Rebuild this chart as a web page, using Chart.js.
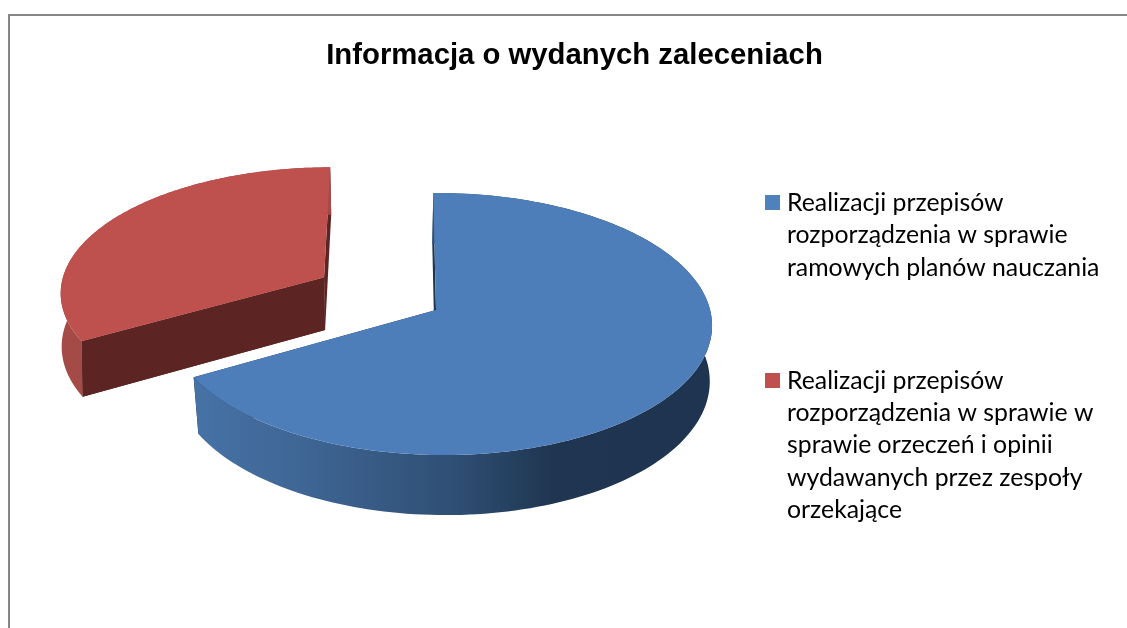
<!DOCTYPE html>
<html lang="pl">
<head>
<meta charset="utf-8">
<style>html,body{margin:0;padding:0;background:#fff}canvas{display:block}</style>
<script src="https://cdn.jsdelivr.net/npm/chart.js@4"></script>
</head>
<body>
<canvas id="c" width="1127" height="628"></canvas>
<script>
const chartTitle = "Informacja o wydanych zaleceniach";
const legendLines = [
  ["Realizacji przepisów", "rozporządzenia w sprawie", "ramowych planów nauczania"],
  ["Realizacji przepisów", "rozporządzenia w sprawie w", "sprawie orzeczeń i opinii", "wydawanych przez zespoły", "orzekające"]
];
const categories = legendLines.map(l => l.join(" "));
const values = [66.7, 33.3];
const sliceColors = ["#4e7eb9", "#be504d"];
const legendColors = ["#4f81bd", "#c0504d"];
const explode = [0, 98];

// Projection of the chart's pie plane into the tilted 3D view
const RADIUS = 200;
const topPlane = [
  {ax:436, ay:310, rx:270, ry:129.5, k:.107, m:-.015, s:3},
  {ax:436, ay:308, rx:268, ry:128, k:.107, m:0, s:5}
];
const basePlane = [
  {ax:435, ay:365, rx:266, ry:134, k:.107, m:-.025, s:3},
  {ax:437, ay:362, rx:268, ry:134, k:.107, m:0, s:5}
];
function project(pl, u, v) {
  const w = 1 / (1 - pl.k * v + pl.m * u);
  return [pl.ax + pl.rx * u * w + pl.s * v * w, pl.ay + pl.ry * v * w];
}
function poly(ctx, pts, fill) {
  ctx.beginPath();
  pts.forEach((p, i) => i ? ctx.lineTo(p[0], p[1]) : ctx.moveTo(p[0], p[1]));
  ctx.closePath();
  ctx.fillStyle = fill;
  ctx.fill();
}
function wallFill(ctx, i) {
  const g = ctx.createLinearGradient(195, 0, 711, 0);
  if (i === 0) {
    g.addColorStop(0, "#4672a6");
    g.addColorStop(.2, "#3f6695");
    g.addColorStop(.5, "#2f4f74");
    g.addColorStop(.7, "#1f3550");
    g.addColorStop(1, "#1e3450");
    return g;
  }
  return "#a44a47";
}
const cutColors = ["#1e3450", "#5c2523"];

const pie3d = {
  id: "pie3d",
  beforeDraw(chart) {
    const ctx = chart.ctx;
    ctx.save();
    ctx.fillStyle = "#868686";
    ctx.fillRect(8, 14, 2, 614);
    ctx.fillRect(8, 14, 1119, 2);
    ctx.restore();
  },
  beforeDatasetDraw(chart, args) {
    const ctx = chart.ctx;
    const arcs = chart.getDatasetMeta(args.index).data;
    [1, 0].forEach(i => {
      const arc = arcs[i];
      const r = arc.outerRadius;
      const d = (arc.options.offset || 0) / r;
      const mid = (arc.startAngle + arc.endAngle) / 2;
      const cu = d * Math.cos(mid), cv = d * Math.sin(mid);
      const ring = [];
      const n = 160;
      for (let j = 0; j <= n; j++) {
        const a = arc.startAngle + (arc.endAngle - arc.startAngle) * j / n;
        ring.push([cu + Math.cos(a), cv + Math.sin(a)]);
      }
      const T = topPlane[i], B = basePlane[i];
      const topRing = ring.map(p => project(T, p[0], p[1]));
      const baseRing = ring.map(p => project(B, p[0], p[1]));
      const apexT = project(T, cu, cv), apexB = project(B, cu, cv);
      // cut faces
      poly(ctx, [apexT, topRing[n], baseRing[n], apexB], cutColors[i]);
      poly(ctx, [apexT, topRing[0], baseRing[0], apexB], cutColors[i]);
      // outer wall
      poly(ctx, topRing.concat(baseRing.slice().reverse()), wallFill(ctx, i));
      // front cut face of the exploded slice sits over its wall
      if (i === 1) poly(ctx, [apexT, topRing[0], baseRing[0], apexB], cutColors[i]);
      // top face
      poly(ctx, [apexT].concat(topRing), arc.options.backgroundColor);
    });
    return false;
  },
  afterDraw(chart) {
    const ctx = chart.ctx;
    ctx.save();
    ctx.textBaseline = "alphabetic";
    ctx.textAlign = "left";
    ctx.font = '24.8px Lato';
    const groupY = [211, 388.5];
    legendLines.forEach((lines, i) => {
      ctx.fillStyle = legendColors[i];
      ctx.fillRect(765, Math.round(groupY[i] - 16), 15, 15);
      ctx.fillStyle = "#000";
      lines.forEach((t, j) => ctx.fillText(t, 787, groupY[i] + j * 32.4));
    });
    ctx.restore();
  }
};

new Chart(document.getElementById("c"), {
  type: "pie",
  data: {
    labels: categories,
    datasets: [{
      data: values,
      backgroundColor: sliceColors,
      borderWidth: 0,
      offset: explode
    }]
  },
  options: {
    responsive: false,
    animation: false,
    radius: RADIUS,
    layout: {padding: {left: 22}},
    plugins: {
      legend: {display: false},
      tooltip: {enabled: false},
      title: {
        display: true,
        text: chartTitle,
        color: "#000",
        font: {family: '"Liberation Sans", Arial, sans-serif', size: 29.3, weight: "bold"},
        padding: {top: 38.5, bottom: 10}
      }
    }
  },
  plugins: [pie3d]
});
</script>
</body>
</html>
